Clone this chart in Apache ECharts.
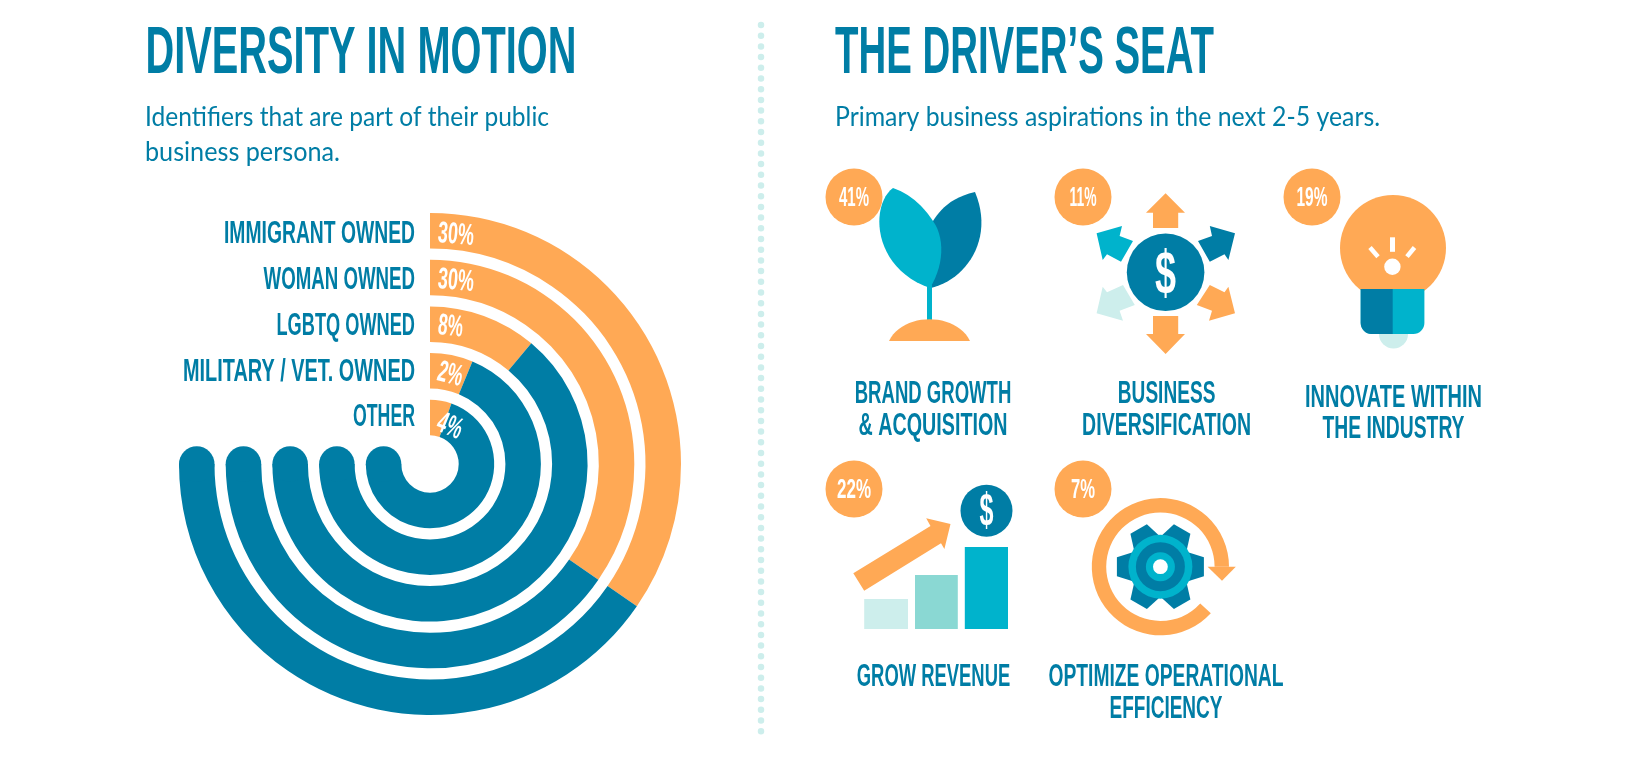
<!DOCTYPE html>
<html><head><meta charset="utf-8">
<style>html,body{margin:0;padding:0;background:#fff}#c{width:1633px;height:757px}</style>
<script src="https://cdn.jsdelivr.net/npm/echarts@6/dist/echarts.min.js"></script>
</head><body><div id="c"></div>
<script>
// ---- data ----
const identifiers = ['IMMIGRANT OWNED','WOMAN OWNED','LGBTQ OWNED','MILITARY / VET. OWNED','OTHER'];
const identifierPercents = [30,30,8,2,4];
// the arcs in the source graphic are not proportional: swept degrees as drawn
const orangeSweep = [124.5,124.5,40,22.5,19.5];
const fullSweep = 270;
const aspirations = ['BRAND GROWTH\n& ACQUISITION','BUSINESS\nDIVERSIFICATION','INNOVATE WITHIN\nTHE INDUSTRY','GROW REVENUE','OPTIMIZE OPERATIONAL\nEFFICIENCY'];
const aspirationPercents = [41,11,19,22,7];

const ORANGE='#ffa955', BLUE='#007da5', TEAL='#00b3cc', MINT='#8ad8d3', PALE='#cdeeec';
const HEAD='"Liberation Sans Narrow","Liberation Sans",sans-serif';
const BODY='Lato,"Open Sans",sans-serif';
const mctx=document.createElement('canvas').getContext('2d');
const els=[];
function add(e){e.z=10;els.push(e);return e;}
function T(text,x,y,size,w,o){
  o=o||{};
  const fam=o.family||HEAD, wt=o.weight||'bold';
  mctx.font=wt+' '+size+'px '+fam;
  const m=mctx.measureText(text).width;
  add({type:'text',x:x,y:y+0.06*size,scaleX:w/m,scaleY:1,rotation:o.rot||0,
    style:{text:text,fill:o.fill||BLUE,fontFamily:fam,fontSize:size,fontWeight:wt,
      align:o.align||'left',verticalAlign:'middle'}});
}
function poly(pts,fill){add({type:'polygon',shape:{points:pts},style:{fill:fill}});}
function circ(cx,cy,r,fill){add({type:'circle',shape:{cx:cx,cy:cy,r:r},style:{fill:fill}});}
function rect(x,y,w,h,fill,r){add({type:'rect',shape:{x:x,y:y,width:w,height:h,r:r||0},style:{fill:fill}});}
function bez(a,b,c,d,n){n=n||24;const o=[];for(let i=0;i<=n;i++){const t=i/n,u=1-t;
  o.push([u*u*u*a[0]+3*u*u*t*b[0]+3*u*t*t*c[0]+t*t*t*d[0],u*u*u*a[1]+3*u*u*t*b[1]+3*u*t*t*c[1]+t*t*t*d[1]]);}return o;}

// headings
T('DIVERSITY IN MOTION',145.5,51,66,431);
T('THE DRIVER\u2019S SEAT',835,51,66,379);
const bf={family:BODY,weight:'normal'};
T('Identifiers that are part of their public',145,116,27,404,bf);
T('business persona.',145,150.5,27,195,bf);
T('Primary business aspirations in the next 2-5 years.',835,116,27,545,bf);
// divider
add({type:'line',shape:{x1:761,y1:25,x2:761,y2:735},style:{stroke:PALE,lineWidth:6.5,lineCap:'round',lineDash:[0,10.7]}});

// left labels
const rowY=[232,278,324,370,415];
const labelW=[191,151.5,138.5,232,62];
identifiers.forEach((t,i)=>T(t,415,rowY[i],32,labelW[i],{align:'right'}));
const pctW=[36,36,25,25,25], pctRot=[-0.08,-0.08,-0.1,-0.25,-0.4], pctX=[438,438,438,438,438], pctDY=[0,0,0,0,5];
identifierPercents.forEach((v,i)=>T(v+'%',pctX[i],rowY[i]+pctDY[i],30,pctW[i],{fill:'#fff',rot:pctRot[i]}));

// bubbles and names
const bub=[[854,197],[1083,197],[1312,197],[854,489],[1083,489]];
const bubW=[30,27,31,34,24];
aspirationPercents.forEach((v,i)=>{circ(bub[i][0],bub[i][1],28.5,ORANGE);
  T(v+'%',bub[i][0],bub[i][1],27,bubW[i],{fill:'#fff',align:'center'});});
const nameCfg=[
 [[933,393,156.6],[933,425,149]],
 [[1166.6,393,97.5],[1166.6,425,169]],
 [[1393.5,397,177],[1393.5,428,142]],
 [[933.5,676,153.5]],
 [[1166,676,235],[1166,708,113]]];
aspirations.forEach((s,i)=>s.split('\n').forEach((l,j)=>{const c=nameCfg[i][j];T(l,c[0],c[1],31,c[2],{align:'center'});}));

// plant icon
poly([...bez([975,192],[950,198],[940,210],[933,221],12),[915,255],...bez([931,288],[965,280],[995,240],[975,192],24)],BLUE);
rect(927,285,5,38,TEAL);
poly([...bez([893,188],[870,205],[872,268],[930,288],24),...bez([930,288],[944,265],[945,238],[933,221],14),...bez([933,221],[922,204],[908,193],[893,188],12)],TEAL);
poly(bez([889,341],[903,312],[956,312],[970,341],24),ORANGE);

// diversification icon
const upA=[[1165.6,193.3],[1185,212.7],[1178.2,212.7],[1178.2,228],[1153,228],[1153,212.7],[1146,212.7]];
const dnA=[[1165.6,354],[1185,334],[1178.2,334],[1178.2,316],[1153,316],[1153,334],[1146,334]];
poly(upA,ORANGE);poly(dnA,ORANGE);
poly([[1096.6,233.3],[1122,226],[1119.6,236],[1133,241],[1121,261.7],[1107,254.3],[1102.7,260]],TEAL);
poly([[1235,233.3],[1209.8,226],[1212,236],[1198,241],[1209.8,261.7],[1224.5,254.3],[1228.4,260]],BLUE);
poly([[1096.6,313.3],[1123,320.7],[1119.6,310.7],[1134.8,305],[1123,285],[1107,292.3],[1102.7,286.7]],PALE);
poly([[1235,313.3],[1209,320.7],[1212,310.7],[1196.8,305],[1209.8,285],[1224.5,292.3],[1228.4,286.7]],ORANGE);
circ(1165.6,272.3,42,'#fff');circ(1165.6,272.3,38.8,BLUE);
T('$',1165.6,272.3,62,21,{fill:'#fff',align:'center'});

// bulb icon
circ(1393.5,334,14.5,PALE);
circ(1393,248,53,ORANGE);
rect(1360.7,289,63.7,45,TEAL,[0,0,11,11]);
rect(1360.7,289,32,45,BLUE,[0,0,0,11]);
rect(1390,237.3,5,14.5,'#fff');
add({type:'line',shape:{x1:1370,y1:247.5,x2:1378,y2:256.7},style:{stroke:'#fff',lineWidth:4.5}});
add({type:'line',shape:{x1:1414.5,y1:247.5,x2:1407,y2:256.7},style:{stroke:'#fff',lineWidth:4.5}});
circ(1392.4,266.7,8.2,'#fff');

// revenue icon
rect(864.2,599,43.8,30,PALE);
rect(915,575,42.8,54,MINT);
rect(964.8,547,43.2,82,TEAL);
poly([[853.3,573.3],[930.5,526],[926.2,518.3],[950.5,524],[944.4,549],[941,543.3],[864.2,590.7]],ORANGE);
circ(986.5,510.7,26,BLUE);
T('$',986.5,510.7,46,14,{fill:'#fff',align:'center'});

// gear icon
const gx=1160.4,gy=566.7;
add({type:'sector',shape:{cx:gx,cy:gy,r:68.6,r0:54.2,startAngle:42.7*Math.PI/180,endAngle:Math.PI*2,clockwise:true},style:{fill:ORANGE}});
poly([[1207.6,566.7],[1235.8,566.7],[1222,580.7]],ORANGE);
for(let a=0;a<6;a++){const t=a*Math.PI/3,c=Math.cos(t),s=Math.sin(t);
  const P=(r,w)=>[gx+c*r-s*w,gy+s*r+c*w];
  poly([P(26,-15),P(43.5,-9.5),P(43.5,9.5),P(26,15)],BLUE);}
circ(gx,gy,32,TEAL);circ(gx,gy,24.5,BLUE);circ(gx,gy,14.5,TEAL);circ(gx,gy,7.4,'#fff');

const blueSweep=orangeSweep.map(v=>fullSweep-v);
const chart=echarts.init(document.getElementById('c'),null,{renderer:'canvas'});
chart.setOption({
  animation:false,
  backgroundColor:'#fff',
  polar:{center:[430,464],radius:[23.1,256.6]},
  angleAxis:{type:'value',min:0,max:360,startAngle:90,clockwise:true,show:false},
  radiusAxis:{type:'category',data:identifiers,inverse:true,show:false},
  series:[
    {name:'Identifier share',type:'bar',coordinateSystem:'polar',stack:'s',barWidth:'76%',data:orangeSweep,itemStyle:{color:ORANGE},silent:true},
    {name:'Remainder',type:'bar',coordinateSystem:'polar',stack:'s',barWidth:'76%',data:blueSweep,itemStyle:{color:BLUE},silent:true},
    {name:'Arc end',type:'scatter',coordinateSystem:'polar',symbol:'circle',symbolSize:35.5,itemStyle:{color:BLUE,opacity:1},silent:true,
      data:identifiers.map((_,i)=>[i,fullSweep])}
  ],
  graphic:{elements:els}
});
</script></body></html>
